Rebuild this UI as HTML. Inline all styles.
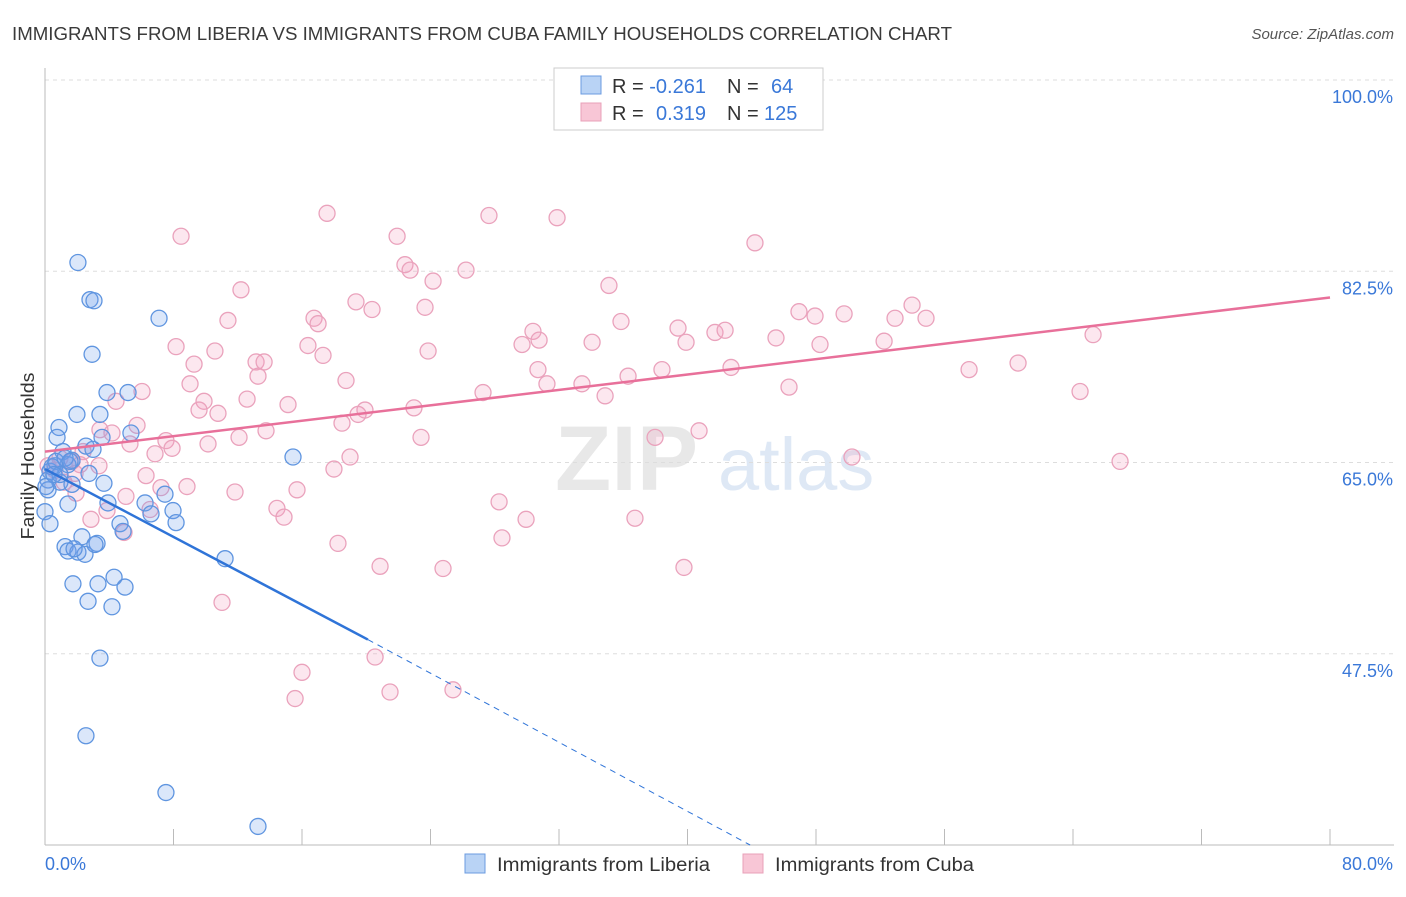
<!DOCTYPE html>
<html><head><meta charset="utf-8"><style>
body{margin:0;background:#fff;font-family:"Liberation Sans",sans-serif;}
svg text{font-family:"Liberation Sans",sans-serif;}
</style></head><body>
<svg id="chart" width="1406" height="892" viewBox="0 0 1406 892" xmlns="http://www.w3.org/2000/svg">
<text x="12" y="40" font-size="18" fill="#3a3a3a" textLength="940" lengthAdjust="spacingAndGlyphs">IMMIGRANTS FROM LIBERIA VS IMMIGRANTS FROM CUBA FAMILY HOUSEHOLDS CORRELATION CHART</text>
<text x="1394" y="39" font-size="15" fill="#555" text-anchor="end" font-style="italic">Source: ZipAtlas.com</text>
<g>
<text x="555" y="490" font-size="92" fill="#d9d9d9" font-family="Liberation Serif" font-weight="bold" opacity="0.6">ZIP</text>
<text x="718" y="490" font-size="74" fill="#c9daf0" opacity="0.6">atlas</text>
</g>
<g id="grid"></g>
<g id="axes"></g>
<g id="marks"></g>
<text transform="translate(34,456) rotate(-90)" font-size="18" fill="#333" text-anchor="middle" textLength="167" lengthAdjust="spacingAndGlyphs">Family Households</text>
<g>
<rect x="554" y="68" width="269" height="62" fill="#fff" stroke="#ccc"/>
<rect x="581" y="76" width="20" height="18" fill="#b9d3f5" stroke="#6b9be0"/>
<rect x="581" y="103" width="20" height="18" fill="#f8c6d6" stroke="#e8a0b8"/>
<text x="612" y="93" font-size="20" fill="#333">R = <tspan fill="#3a78d8">-0.261</tspan><tspan x="727">N = </tspan><tspan x="771" fill="#3a78d8">64</tspan></text>
<text x="612" y="120" font-size="20" fill="#333">R = <tspan x="656" fill="#3a78d8">0.319</tspan><tspan x="727">N = </tspan><tspan x="764" fill="#3a78d8">125</tspan></text>
</g>
<g>
<rect x="465" y="854" width="20" height="19" fill="#b9d3f5" stroke="#6b9be0"/>
<text x="497" y="871" font-size="19" fill="#333" textLength="213" lengthAdjust="spacingAndGlyphs">Immigrants from Liberia</text>
<rect x="743" y="854" width="20" height="19" fill="#f8c6d6" stroke="#e8a0b8"/>
<text x="775" y="871" font-size="19" fill="#333" textLength="199" lengthAdjust="spacingAndGlyphs">Immigrants from Cuba</text>
</g>
</svg>
<script>
const yTicks=[47.5,65.0,82.5,100.0];
const yTickLabels=["47.5%","65.0%","82.5%","100.0%"];
const xTicks=[0,8,16,24,32,40,48,56,64,72,80];
const xEndLabels=["0.0%","80.0%"];
const liberiaX=[2.05,2.80,3.05,2.93,7.10,3.86,5.17,1.99,3.42,0.87,0.75,2.55,2.99,3.55,5.35,15.44,1.12,1.68,1.43,2.74,0.62,0.31,0.19,0.93,1.68,3.67,0.19,0,0.31,1.43,3.92,6.23,7.47,6.60,7.97,4.67,4.86,8.16,2.30,3.24,1.25,1.43,2.05,2.49,1.81,3.11,11.21,4.30,1.74,3.30,4.98,2.68,4.17,3.42,2.55,7.53,13.26,0.44,0.68,1.25,1.56,0.06,0.93,0.56];
const liberiaY=[83.3,79.9,79.8,74.9,78.2,71.4,71.4,69.4,69.4,68.2,67.3,66.5,66.2,67.3,67.7,65.5,66.0,65.2,64.8,64.0,64.7,64.2,63.4,63.2,63.0,63.1,62.5,60.5,59.4,61.2,61.3,61.3,62.1,60.3,60.6,59.4,58.7,59.5,58.2,57.6,57.3,56.9,56.8,56.6,57.1,57.5,56.2,54.5,53.9,53.9,53.6,52.3,51.8,47.1,40.0,34.8,31.7,64.6,65.1,65.4,65.1,62.8,63.9,63.9];
const cubaX=[8.47,17.56,27.64,31.88,21.92,44.20,22.41,22.73,26.21,24.16,12.20,35.11,19.36,23.66,20.36,11.39,16.75,17.00,35.86,30.38,39.41,41.71,42.34,46.94,47.94,49.75,52.92,53.98,54.85,65.25,8.16,10.58,16.37,17.31,23.85,29.70,30.76,34.06,39.91,45.51,48.25,52.24,9.28,13.14,13.64,13.26,18.74,30.69,36.30,38.41,42.71,60.58,57.53,9.03,31.25,33.43,27.27,34.87,46.32,64.44,6.04,4.42,12.58,15.13,9.90,9.59,10.77,19.92,22.97,19.49,18.49,5.73,4.17,3.42,13.76,12.08,23.41,37.98,40.72,7.53,5.29,7.91,10.15,6.85,18.99,17.99,50.24,66.93,6.29,7.22,8.84,11.83,15.69,5.04,1.93,2.86,3.86,6.54,14.44,14.88,28.27,29.95,36.73,18.24,28.45,4.92,11.02,20.86,24.78,39.78,20.55,16.00,21.48,15.57,25.40,2.37,0.93,1.68,0.62,1.18,0.19,3.36,2.18,1.87];
const cubaY=[85.7,87.8,87.6,87.4,85.7,85.1,83.1,82.6,82.6,81.6,80.8,81.2,79.7,79.2,79.0,78.0,78.2,77.7,77.9,77.0,77.3,76.9,77.1,78.8,78.4,78.6,78.2,79.4,78.2,76.7,75.6,75.2,75.7,74.8,75.2,75.8,76.2,76.0,76.0,76.4,75.8,76.1,74.0,74.2,74.2,72.9,72.5,73.5,72.9,73.5,73.7,74.1,73.5,72.2,72.2,72.2,71.4,71.1,71.9,71.5,71.5,70.6,70.8,70.3,70.6,69.8,69.5,69.8,70.0,69.4,68.6,68.4,67.7,68.0,67.9,67.3,67.3,67.3,67.9,67.0,66.7,66.3,66.7,65.8,65.5,64.4,65.5,65.1,63.8,62.7,62.8,62.3,62.5,61.9,62.2,59.8,60.6,60.7,60.8,60.0,61.4,59.8,59.9,57.6,58.1,58.6,52.2,55.5,55.3,55.4,47.2,45.8,44.0,43.4,44.2,66.0,65.4,65.1,64.3,63.2,64.7,64.7,64.8,64.0];
const liberiaTrend=[[0,64.4],[20.1,48.8],[43.9,30.0]];
const cubaTrend=[[0,66.0],[80,80.1]];

const NS="http://www.w3.org/2000/svg";
const X0=45,X1=1330,Y0=845,Y1=80;
const sx=v=>X0+(v-0)/80*(X1-X0);
const sy=v=>Y0-(v-30)/70*(Y0-Y1);
function mk(tag,attrs,parent){const e=document.createElementNS(NS,tag);for(const k in attrs)e.setAttribute(k,attrs[k]);parent.appendChild(e);return e;}
const grid=document.getElementById('grid'),axes=document.getElementById('axes'),marks=document.getElementById('marks');
yTicks.forEach((t,i)=>{
  const l=mk('line',{x1:X0,x2:1394,y1:sy(t),y2:sy(t),stroke:'#ddd','stroke-dasharray':'4,4'},grid);
  
  
  const tx=mk('text',{x:1393,y:sy(t)+23,'font-size':18,fill:'#3a78d8','text-anchor':'end'},axes);
  tx.textContent=yTickLabels[i];
  
  
});
const ax=mk('line',{x1:X0,x2:X0,y1:68,y2:Y0,stroke:'#bbb'},axes);


const bx=mk('line',{x1:X0,x2:1394,y1:Y0,y2:Y0,stroke:'#bbb'},axes);


xTicks.forEach(t=>{
  const l=mk('line',{x1:sx(t),x2:sx(t),y1:Y0,y2:Y0-16,stroke:'#bbb'},axes);
  
  
});
[[0,'start',45],[80,'end',1393]].forEach((a,i)=>{
  const tx=mk('text',{x:a[2],y:870,'font-size':18,fill:'#3a78d8','text-anchor':a[1]},axes);
  tx.textContent=xEndLabels[i];
  
  
});
function dots(xs,ys,fill,stroke,name){
  xs.forEach((x,i)=>{
    const c=mk('circle',{cx:sx(x),cy:sy(ys[i]),r:8,fill:fill,stroke:stroke,'stroke-width':1.3},marks);
    
    
  });
}
dots(cubaX,cubaY,'rgba(244,160,190,0.25)','#eaa2bc','cuba-point');
dots(liberiaX,liberiaY,'rgba(110,160,235,0.25)','#5f95e0','liberia-point');
const pl=mk('line',{x1:sx(cubaTrend[0][0]),y1:sy(cubaTrend[0][1]),x2:sx(cubaTrend[1][0]),y2:sy(cubaTrend[1][1]),stroke:'#e8709a','stroke-width':2.5},marks);


const bl=mk('line',{x1:sx(liberiaTrend[0][0]),y1:sy(liberiaTrend[0][1]),x2:sx(liberiaTrend[1][0]),y2:sy(liberiaTrend[1][1]),stroke:'#2f74d8','stroke-width':2.5},marks);


const bd=mk('line',{x1:sx(liberiaTrend[1][0]),y1:sy(liberiaTrend[1][1]),x2:sx(liberiaTrend[2][0]),y2:sy(liberiaTrend[2][1]),stroke:'#2f74d8','stroke-width':1,'stroke-dasharray':'6,5'},marks);


</script>
</body></html>
